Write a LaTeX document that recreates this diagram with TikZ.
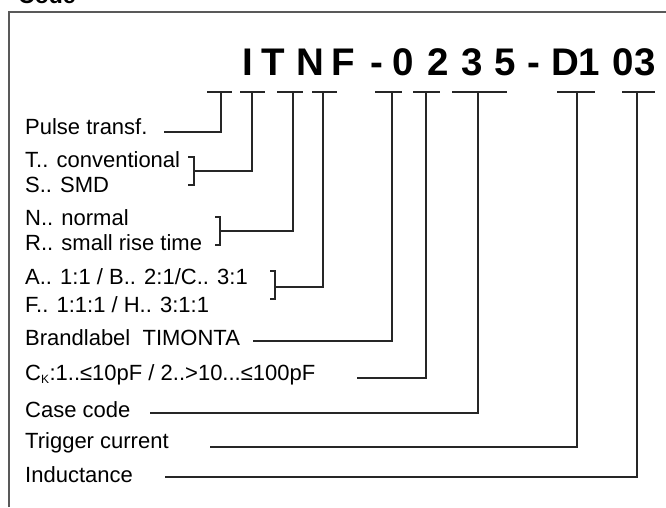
\documentclass[tikz,border=0pt]{standalone}
\usepackage{fontspec}
\setmainfont{Liberation Sans}
\begin{document}
\begin{tikzpicture}[x=1pt,y=-1pt,
  lbl/.style={anchor=base west,inner sep=0pt,font=\fontsize{22}{24}\selectfont},
  big/.style={anchor=base,inner sep=0pt,font=\fontsize{38.5}{40}\selectfont\bfseries},
  conn/.style={line width=1.1pt,black!85},
  frame/.style={line width=1.6pt,black!65}]
\useasboundingbox (0,0) rectangle (666,507);
% heading and frame
\node[anchor=base west,inner sep=0pt,font=\fontsize{23}{24}\selectfont\bfseries] (code) at (18,3) {Code};
\draw[frame] (9,507) -- (9,12) -- (670,12);
% title letters
\foreach \c/\x [count=\i] in {I/248,T/273,N/310,F/343,-/377,0/403,2/438,3/472,5/505,-/534,D/565,1/589,0/623,3/645}
  \node[big] (t\i) at (\x,75) {\c};
% bars under the code
\foreach \a/\b/\v/\n in {207/232/221/b1,240/265/252/b2,277/303/293/b3,312/337/323/b4,375/402/392/b5,413/440/426/b6,452/507/478/b7,557/595/577/b8,622/655/637/b9}{
  \draw[conn] (\a,92) -- (\b,92);
  \coordinate (\n) at (\v,92);
}
% labels
\node[lbl] (l1) at (25,134) {Pulse transf.};
\node[lbl] (l2a) at (25,167) {T.. conventional};
\node[lbl] (l2b) at (25,192) {S.. SMD};
\node[lbl] (l3a) at (25,225) {N.. normal};
\node[lbl] (l3b) at (25,250) {R.. small rise time};
\node[lbl] (l4a) at (25,284) {A.. 1:1 / B.. 2:1/C.. 3:1};
\node[lbl] (l4b) at (25,312) {F.. 1:1:1 / H.. 3:1:1};
\node[lbl] (l5) at (25,345) {Brandlabel\ \ TIMONTA};
\node[lbl] (l6) at (25,380) {C\textsubscript{\fontsize{12}{12}\selectfont K}:1..≤10pF / 2..>10...≤100pF};
\node[lbl] (l7) at (25,417) {Case code};
\node[lbl] (l8) at (25,448) {Trigger current};
\node[lbl] (l9) at (25,482) {Inductance};
% line starts
\coordinate (s1) at (164,132);
\coordinate (s5) at (253,341);
\coordinate (s6) at (357,378);
\coordinate (s7) at (150,413);
\coordinate (s8) at (210,447);
\coordinate (s9) at (165,477);
% brackets
\coordinate (k2) at (194,171);
\coordinate (k3) at (220,231);
\coordinate (k4) at (275,287);
\draw[conn] (188,157) -- (194,157) -- (194,185) -- (188,185);
\draw[conn] (215,217) -- (220,217) -- (220,245) -- (215,245);
\draw[conn] (270,271) -- (275,271) -- (275,299) -- (270,299);
% connectors
\draw[conn] (s1) -| (b1);
\draw[conn] (k2) -| (b2);
\draw[conn] (k3) -| (b3);
\draw[conn] (k4) -| (b4);
\draw[conn] (s5) -| (b5);
\draw[conn] (s6) -| (b6);
\draw[conn] (s7) -| (b7);
\draw[conn] (s8) -| (b8);
\draw[conn] (s9) -| (b9);
\end{tikzpicture}
\end{document}
